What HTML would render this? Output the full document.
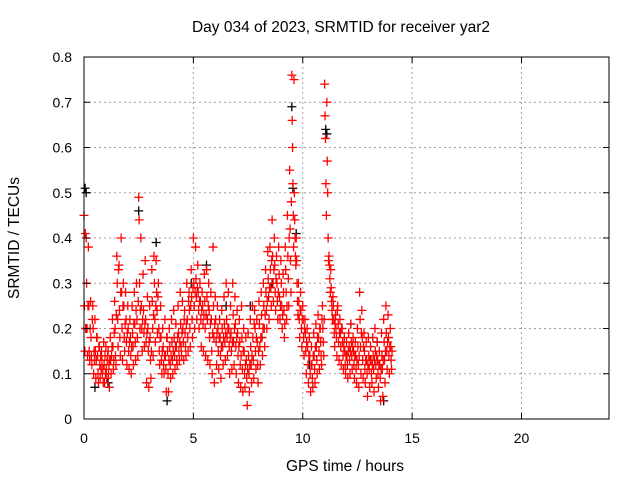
<!DOCTYPE html>
<html><head><meta charset="utf-8"><style>
body{margin:0;background:#fff;}
svg text{font-family:"Liberation Sans",sans-serif;font-size:14px;fill:#000;}
svg text.big{font-size:15.5px;}
</style></head><body>
<svg id="chart" width="640" height="480" xmlns="http://www.w3.org/2000/svg">
<rect width="640" height="480" fill="#fff"/>
<text class="big" x="341" y="32" text-anchor="middle">Day 034 of 2023, SRMTID for receiver yar2</text>
<text class="big" x="345" y="471" text-anchor="middle">GPS time / hours</text>
<text class="big" transform="translate(19,238) rotate(-90)" text-anchor="middle">SRMTID / TECUs</text>
<g id="grid"></g><g id="marks"></g><g id="axes"></g>
</svg>
<script>
const xTicks=[0,5,10,15,20];
const yTicks=[0,0.1,0.2,0.3,0.4,0.5,0.6,0.7,0.8];
const stepTimes=[0.0,0.1,0.2,0.3,0.4,0.5,0.6,0.7,0.8,0.9,1.0,1.1,1.2,1.3,1.4,1.5,1.6,1.7,1.8,1.9,2.0,2.1,2.2,2.3,2.4,2.5,2.6,2.7,2.8,2.9,3.0,3.1,3.2,3.3,3.4,3.5,3.6,3.7,3.8,3.9,4.0,4.1,4.2,4.3,4.4,4.5,4.6,4.7,4.8,4.9,5.0,5.1,5.2,5.3,5.4,5.5,5.6,5.7,5.8,5.9,6.0,6.1,6.2,6.3,6.4,6.5,6.6,6.7,6.8,6.9,7.0,7.1,7.2,7.3,7.4,7.5,7.6,7.7,7.8,7.9,8.0,8.1,8.2,8.3,8.4,8.5,8.6,8.7,8.8,8.9,9.0,9.1,9.2,9.3,9.4,9.5,9.6,9.7,9.8,9.9,10.0,10.1,10.2,10.3,10.4,10.5,10.6,10.7,10.8,10.9,11.0,11.1,11.2,11.3,11.4,11.5,11.6,11.7,11.8,11.9,12.0,12.1,12.2,12.3,12.4,12.5,12.6,12.7,12.8,12.9,13.0,13.1,13.2,13.3,13.4,13.5,13.6,13.7,13.8,13.9,14.0];
const redValues=[
[.45,.25,.15,.41,.20],[.40,.30,.20,.14,.25],[.38,.25,.15,.13,.20],[.26,.18,.14,.12,.22],[.25,.20,.10,.15,.13],[.22,.15,.09,.13,.18],[.18,.14,.10,.08,.16],[.16,.12,.09,.14,.11],[.15,.13,.10,.11,.08],[.17,.12,.08,.14,.10],
[.16,.11,.09,.13,.14],[.15,.10,.12,.07,.13],[.18,.13,.10,.14,.16],[.22,.16,.11,.13,.19],[.26,.20,.14,.12,.23],[.36,.30,.22,.16,.33],[.34,.24,.18,.14,.28],[.40,.28,.20,.13,.25],[.30,.25,.18,.15,.21],[.28,.22,.17,.12,.19],
[.25,.20,.15,.11,.17],[.22,.18,.14,.10,.16],[.25,.19,.16,.12,.21],[.28,.21,.17,.13,.24],[.30,.22,.18,.14,.26],[.49,.44,.30,.20,.24],[.40,.25,.20,.15,.22],[.32,.24,.19,.16,.21],[.35,.22,.17,.08,.19],[.27,.20,.15,.07,.17],
[.25,.18,.13,.09,.15],[.33,.26,.20,.14,.23],[.36,.30,.22,.17,.25],[.35,.28,.24,.19,.27],[.30,.20,.15,.12,.18],[.25,.18,.13,.10,.15],[.20,.16,.12,.10,.14],[.22,.14,.11,.06,.18],[.18,.15,.10,.06,.13],[.20,.16,.12,.09,.14],
[.22,.17,.13,.10,.15],[.24,.18,.14,.11,.16],[.21,.16,.13,.12,.18],[.25,.19,.15,.13,.17],[.28,.21,.16,.14,.19],[.26,.20,.17,.13,.22],[.24,.19,.16,.14,.21],[.30,.22,.18,.15,.26],[.28,.24,.20,.16,.25],[.33,.27,.22,.18,.29],
[.40,.30,.25,.20,.28],[.38,.31,.27,.22,.29],[.34,.28,.24,.20,.26],[.30,.26,.22,.16,.24],[.28,.25,.21,.15,.23],[.32,.26,.20,.14,.23],[.33,.27,.22,.13,.25],[.30,.24,.18,.12,.21],[.28,.22,.15,.10,.19],[.38,.25,.18,.08,.21],
[.27,.22,.17,.12,.19],[.25,.20,.15,.11,.18],[.22,.18,.14,.09,.16],[.24,.20,.16,.12,.18],[.27,.21,.17,.13,.19],[.30,.22,.18,.14,.20],[.28,.20,.16,.10,.18],[.25,.19,.15,.11,.17],[.30,.23,.17,.12,.20],[.27,.21,.16,.10,.18],
[.24,.19,.14,.08,.16],[.22,.17,.12,.07,.14],[.25,.18,.11,.06,.15],[.20,.15,.10,.07,.12],[.18,.13,.09,.03,.11],[.19,.14,.10,.06,.12],[.22,.16,.12,.08,.14],[.25,.18,.13,.09,.21],[.24,.20,.15,.11,.18],[.22,.17,.12,.08,.15],
[.26,.21,.16,.12,.18],[.28,.23,.18,.14,.20],[.30,.25,.20,.16,.23],[.33,.28,.24,.20,.26],[.37,.31,.27,.22,.29],[.38,.33,.29,.25,.35],[.44,.36,.30,.26,.33],[.40,.34,.28,.24,.31],[.36,.30,.26,.22,.28],[.38,.32,.27,.22,.25],
[.35,.30,.25,.20,.23],[.32,.28,.24,.18,.21],[.38,.33,.28,.22,.25],[.45,.36,.31,.25,.40],[.55,.42,.35,.28,.48],[.76,.66,.60,.52,.45,.38],[.75,.50,.44,.40,.36,.34],[.40,.35,.30,.26,.23],[.30,.26,.22,.18,.24],[.28,.24,.20,.16,.22],
[.25,.22,.18,.14,.20],[.22,.19,.15,.10,.17],[.20,.16,.12,.08,.14],[.18,.14,.10,.06,.12],[.16,.12,.09,.07,.14],[.19,.14,.11,.08,.16],[.21,.16,.13,.10,.18],[.23,.18,.15,.11,.20],[.20,.17,.14,.12,.22],[.25,.20,.17,.14,.22],
[.74,.67,.62,.52,.45],[.70,.57,.50,.40,.35],[.36,.34,.31,.28,.33],[.29,.26,.24,.22,.27],[.25,.22,.19,.16,.21],[.23,.20,.18,.14,.24],[.25,.21,.17,.13,.19],[.22,.19,.16,.12,.20],[.20,.17,.14,.11,.16],[.18,.15,.12,.10,.14],
[.17,.14,.12,.09,.15],[.19,.16,.13,.10,.15],[.21,.17,.14,.11,.16],[.18,.15,.12,.09,.14],[.17,.14,.11,.08,.13],[.20,.16,.12,.07,.14],[.28,.22,.16,.10,.19],[.24,.18,.13,.09,.16],[.19,.15,.11,.08,.13],[.17,.13,.10,.05,.12],
[.18,.14,.11,.07,.13],[.16,.13,.10,.08,.12],[.18,.14,.11,.06,.13],[.20,.15,.12,.09,.14],[.17,.13,.10,.07,.12],[.15,.12,.09,.04,.11],[.19,.14,.11,.05,.13],[.22,.17,.13,.08,.15],[.25,.19,.15,.11,.17],[.23,.18,.14,.10,.16],[.20,.16,.13,.11,.15]];
const blackTimes=[0.05,0.1,9.5,9.55,11.05,11.1,2.5,3.3,9.7,5.6,7.6,13.7,0.5,3.8,4.9,12.2,13.4,1.1,6.5,8.6,0.08,10.3];
const blackValues=[.51,.50,.69,.51,.64,.63,.46,.39,.41,.34,.25,.04,.07,.04,.30,.21,.17,.08,.25,.30,.20,.12];
const X0=84,X1=609,Y0=419,Y1=57;
const xs=v=>X0+(v/24)*(X1-X0);
const ys=v=>Y0-(v/0.8)*(Y0-Y1);
const NS="http://www.w3.org/2000/svg";
const grid=document.getElementById('grid'),marks=document.getElementById('marks'),axes=document.getElementById('axes');
function mk(tag,attrs,parent){const e=document.createElementNS(NS,tag);for(const k in attrs)e.setAttribute(k,attrs[k]);parent.appendChild(e);return e;}
xTicks.forEach(t=>{
 const x=xs(t);
 if(t>0){const g=mk('line',{x1:x,x2:x,y1:Y1,y2:Y0,stroke:'#a0a0a0','stroke-dasharray':'2,3'},grid);
 
 }
 const l=mk('text',{x:x,y:Y0+24,'text-anchor':'middle'},axes);l.textContent=t;
 
 
 mk('line',{x1:x,x2:x,y1:Y0,y2:Y0-6,stroke:'#000'},axes);
 mk('line',{x1:x,x2:x,y1:Y1,y2:Y1+6,stroke:'#000'},axes);
});
yTicks.forEach(t=>{
 const y=ys(t);
 if(t>0&&t<0.8){const g=mk('line',{x1:X0,x2:X1,y1:y,y2:y,stroke:'#a0a0a0','stroke-dasharray':'2,3'},grid);
 
 }
 const l=mk('text',{x:X0-12,y:y+5,'text-anchor':'end'},axes);l.textContent=+t.toFixed(1);
 
 
 mk('line',{x1:X0,x2:X0+6,y1:y,y2:y,stroke:'#000'},axes);
 mk('line',{x1:X1,x2:X1-6,y1:y,y2:y,stroke:'#000'},axes);
});
const frame=mk('rect',{x:X0,y:Y1,width:X1-X0,height:Y0-Y1,fill:'none',stroke:'#000'},axes);


function plus(t,v,color){
 const x=xs(t),y=ys(v);
 return mk('path',{d:`M${x-4.5},${y}h9M${x},${y-4.5}v9`,stroke:color,'stroke-width':1.3,fill:'none'},marks);
}
blackTimes.forEach((t,i)=>{const p=plus(t,blackValues[i],'#000');
 
 });
stepTimes.forEach((t,i)=>{
 const vals=redValues[i];
 vals.forEach((v,j)=>{const p=plus(t+j*0.1/vals.length,v,'#ff0000');
 
 });
});
</script>
</body></html>
